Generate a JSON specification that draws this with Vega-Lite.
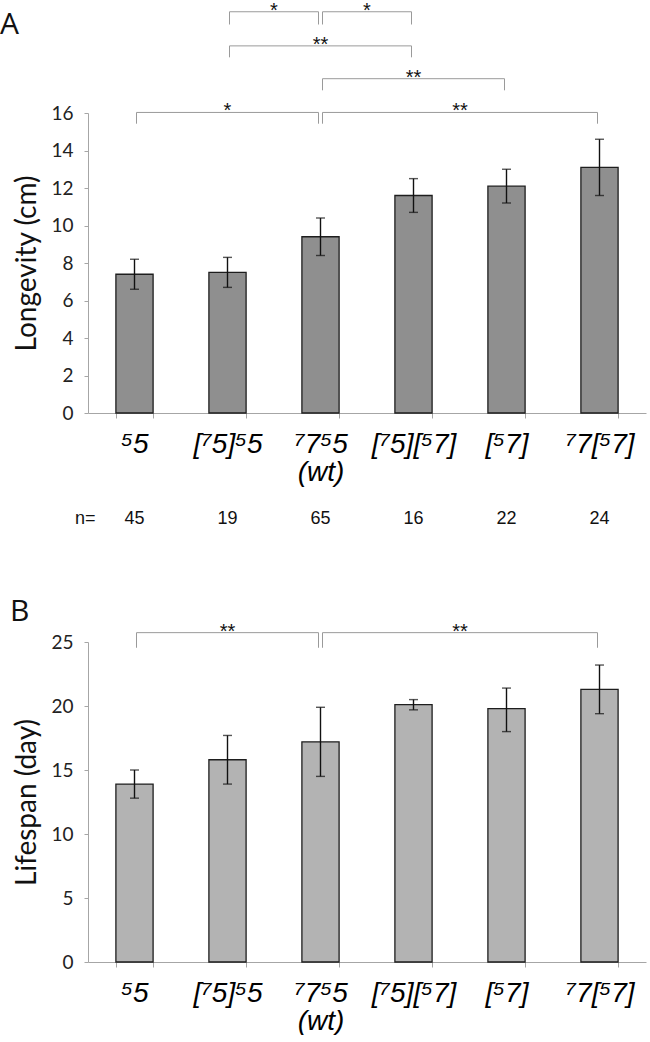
{
  "$schema": "https://vega.github.io/schema/vega-lite/v6.json",
  "background": "white",
  "padding": {"left": 0, "top": 0, "right": 2, "bottom": 0},
  "spacing": 69,
  "datasets": {
    "longevity": [
      {"genotype": "⁵5", "mean": 7.4, "lo": 6.6, "hi": 8.2, "n": 45},
      {"genotype": "[⁷5]⁵5", "mean": 7.5, "lo": 6.7, "hi": 8.3, "n": 19},
      {"genotype": "⁷7⁵5\n(wt)", "mean": 9.4, "lo": 8.4, "hi": 10.4, "n": 65},
      {"genotype": "[⁷5][⁵7]", "mean": 11.6, "lo": 10.7, "hi": 12.5, "n": 16},
      {"genotype": "[⁵7]", "mean": 12.1, "lo": 11.2, "hi": 13.0, "n": 22},
      {"genotype": "⁷7[⁵7]", "mean": 13.1, "lo": 11.6, "hi": 14.6, "n": 24}
    ],
    "lifespan": [
      {"genotype": "⁵5", "mean": 13.9, "lo": 12.8, "hi": 15.0},
      {"genotype": "[⁷5]⁵5", "mean": 15.8, "lo": 13.9, "hi": 17.7},
      {"genotype": "⁷7⁵5\n(wt)", "mean": 17.2, "lo": 14.5, "hi": 19.9},
      {"genotype": "[⁷5][⁵7]", "mean": 20.1, "lo": 19.7, "hi": 20.5},
      {"genotype": "[⁵7]", "mean": 19.8, "lo": 18.0, "hi": 21.4},
      {"genotype": "⁷7[⁵7]", "mean": 21.3, "lo": 19.4, "hi": 23.2}
    ],
    "bracketsA": [
      {"from": 1.5, "to": 2.5, "mid": 2.0, "top": 21.4, "bot": 20.72, "sig": "*"},
      {"from": 2.5, "to": 3.5, "mid": 3.0, "top": 21.4, "bot": 20.72, "sig": "*"},
      {"from": 1.5, "to": 3.5, "mid": 2.5, "top": 19.58, "bot": 18.97, "sig": "**"},
      {"from": 2.5, "to": 4.5, "mid": 3.5, "top": 17.83, "bot": 17.21, "sig": "**"},
      {"from": 0.5, "to": 2.5, "mid": 1.5, "top": 16.03, "bot": 15.43, "sig": "*"},
      {"from": 2.5, "to": 5.5, "mid": 4.0, "top": 16.03, "bot": 15.43, "sig": "**"}
    ],
    "bracketsB": [
      {"from": 0.5, "to": 2.5, "mid": 1.5, "top": 25.73, "bot": 24.55, "sig": "**"},
      {"from": 2.5, "to": 5.5, "mid": 4.0, "top": 25.73, "bot": 24.55, "sig": "**"}
    ]
  },
  "vconcat": [
    {
      "width": 558,
      "height": 300,
      "resolve": {"scale": {"x": "independent"}},
      "layer": [
        {
          "data": {"name": "longevity"},
          "encoding": {
            "x": {
              "field": "genotype", "type": "nominal", "sort": null,
              "scale": {"paddingInner": 0.6, "paddingOuter": 0.3},
              "axis": {"title": null}
            }
          },
          "layer": [
            {
              "mark": {"type": "bar", "fill": "#8f8f8f", "stroke": "#1e1e1e", "strokeWidth": 1.3},
              "encoding": {
                "y": {
                  "field": "mean", "type": "quantitative",
                  "scale": {"domain": [0, 16], "nice": false},
                  "axis": {"values": [0, 2, 4, 6, 8, 10, 12, 14, 16], "title": "Longevity (cm)"}
                }
              }
            },
            {
              "mark": {"type": "rule", "color": "#111", "strokeWidth": 1.4},
              "encoding": {
                "y": {"field": "lo", "type": "quantitative", "scale": {"domain": [0, 16], "nice": false}, "axis": {"values": [0, 2, 4, 6, 8, 10, 12, 14, 16], "title": "Longevity (cm)"}},
                "y2": {"field": "hi"}
              }
            },
            {
              "mark": {"type": "tick", "color": "#111", "thickness": 1.4, "size": 9},
              "encoding": {
                "y": {"field": "lo", "type": "quantitative", "scale": {"domain": [0, 16], "nice": false}, "axis": {"values": [0, 2, 4, 6, 8, 10, 12, 14, 16], "title": "Longevity (cm)"}}
              }
            },
            {
              "mark": {"type": "tick", "color": "#111", "thickness": 1.4, "size": 9},
              "encoding": {
                "y": {"field": "hi", "type": "quantitative", "scale": {"domain": [0, 16], "nice": false}, "axis": {"values": [0, 2, 4, 6, 8, 10, 12, 14, 16], "title": "Longevity (cm)"}}
              }
            },
            {
              "mark": {"type": "text", "font": "Liberation Sans", "fontSize": 18, "baseline": "middle", "color": "#111"},
              "encoding": {
                "y": {"datum": -5.64, "type": "quantitative", "scale": {"domain": [0, 16], "nice": false}, "axis": {"values": [0, 2, 4, 6, 8, 10, 12, 14, 16], "title": "Longevity (cm)"}},
                "text": {"field": "n"}
              }
            }
          ]
        },
        {
          "data": {"name": "bracketsA"},
          "layer": [
            {
              "mark": {"type": "rule", "color": "#9a9a9a", "strokeWidth": 1, "xOffset": 2, "x2Offset": -2},
              "encoding": {
                "x": {"field": "from", "type": "quantitative", "scale": {"domain": [0, 6]}, "axis": null},
                "x2": {"field": "to"},
                "y": {"field": "top", "type": "quantitative", "scale": {"domain": [0, 16], "nice": false}, "axis": {"values": [0, 2, 4, 6, 8, 10, 12, 14, 16], "title": "Longevity (cm)"}}
              }
            },
            {
              "mark": {"type": "rule", "color": "#9a9a9a", "strokeWidth": 1, "xOffset": 2},
              "encoding": {
                "x": {"field": "from", "type": "quantitative", "scale": {"domain": [0, 6]}, "axis": null},
                "y": {"field": "bot", "type": "quantitative", "scale": {"domain": [0, 16], "nice": false}, "axis": {"values": [0, 2, 4, 6, 8, 10, 12, 14, 16], "title": "Longevity (cm)"}},
                "y2": {"field": "top"}
              }
            },
            {
              "mark": {"type": "rule", "color": "#9a9a9a", "strokeWidth": 1, "xOffset": -2},
              "encoding": {
                "x": {"field": "to", "type": "quantitative", "scale": {"domain": [0, 6]}, "axis": null},
                "y": {"field": "bot", "type": "quantitative", "scale": {"domain": [0, 16], "nice": false}, "axis": {"values": [0, 2, 4, 6, 8, 10, 12, 14, 16], "title": "Longevity (cm)"}},
                "y2": {"field": "top"}
              }
            },
            {
              "mark": {"type": "text", "font": "Liberation Sans", "fontSize": 20, "baseline": "alphabetic", "dy": 5, "color": "#111"},
              "encoding": {
                "x": {"field": "mid", "type": "quantitative", "scale": {"domain": [0, 6]}, "axis": null},
                "y": {"field": "top", "type": "quantitative", "scale": {"domain": [0, 16], "nice": false}, "axis": {"values": [0, 2, 4, 6, 8, 10, 12, 14, 16], "title": "Longevity (cm)"}},
                "text": {"field": "sig"}
              }
            }
          ]
        },
        {
          "data": {"values": [{"label": "n="}]},
          "mark": {"type": "text", "font": "Liberation Sans", "fontSize": 18, "baseline": "middle", "color": "#111"},
          "encoding": {
            "x": {"datum": -0.03, "type": "quantitative", "scale": {"domain": [0, 6]}, "axis": null},
            "y": {"datum": -5.64, "type": "quantitative", "scale": {"domain": [0, 16], "nice": false}, "axis": {"values": [0, 2, 4, 6, 8, 10, 12, 14, 16], "title": "Longevity (cm)"}},
            "text": {"field": "label"}
          }
        },
        {
          "data": {"values": [{"panel": "A"}]},
          "mark": {"type": "text", "font": "Open Sans", "fontSize": 30, "align": "left", "baseline": "alphabetic", "color": "#111"},
          "encoding": {
            "x": {"datum": -0.946, "type": "quantitative", "scale": {"domain": [0, 6]}, "axis": null},
            "y": {"datum": 20.19, "type": "quantitative", "scale": {"domain": [0, 16], "nice": false}, "axis": {"values": [0, 2, 4, 6, 8, 10, 12, 14, 16], "title": "Longevity (cm)"}},
            "text": {"field": "panel"}
          }
        }
      ]
    },
    {
      "width": 558,
      "height": 320,
      "resolve": {"scale": {"x": "independent"}},
      "layer": [
        {
          "data": {"name": "lifespan"},
          "encoding": {
            "x": {
              "field": "genotype", "type": "nominal", "sort": null,
              "scale": {"paddingInner": 0.6, "paddingOuter": 0.3},
              "axis": {"title": null}
            }
          },
          "layer": [
            {
              "mark": {"type": "bar", "fill": "#b3b3b3", "stroke": "#1e1e1e", "strokeWidth": 1.3},
              "encoding": {
                "y": {
                  "field": "mean", "type": "quantitative",
                  "scale": {"domain": [0, 25], "nice": false},
                  "axis": {"values": [0, 5, 10, 15, 20, 25], "title": "Lifespan (day)"}
                }
              }
            },
            {
              "mark": {"type": "rule", "color": "#111", "strokeWidth": 1.4},
              "encoding": {
                "y": {"field": "lo", "type": "quantitative", "scale": {"domain": [0, 25], "nice": false}, "axis": {"values": [0, 5, 10, 15, 20, 25], "title": "Lifespan (day)"}},
                "y2": {"field": "hi"}
              }
            },
            {
              "mark": {"type": "tick", "color": "#111", "thickness": 1.4, "size": 9},
              "encoding": {
                "y": {"field": "lo", "type": "quantitative", "scale": {"domain": [0, 25], "nice": false}, "axis": {"values": [0, 5, 10, 15, 20, 25], "title": "Lifespan (day)"}}
              }
            },
            {
              "mark": {"type": "tick", "color": "#111", "thickness": 1.4, "size": 9},
              "encoding": {
                "y": {"field": "hi", "type": "quantitative", "scale": {"domain": [0, 25], "nice": false}, "axis": {"values": [0, 5, 10, 15, 20, 25], "title": "Lifespan (day)"}}
              }
            }
          ]
        },
        {
          "data": {"name": "bracketsB"},
          "layer": [
            {
              "mark": {"type": "rule", "color": "#9a9a9a", "strokeWidth": 1, "xOffset": 2, "x2Offset": -2},
              "encoding": {
                "x": {"field": "from", "type": "quantitative", "scale": {"domain": [0, 6]}, "axis": null},
                "x2": {"field": "to"},
                "y": {"field": "top", "type": "quantitative", "scale": {"domain": [0, 25], "nice": false}, "axis": {"values": [0, 5, 10, 15, 20, 25], "title": "Lifespan (day)"}}
              }
            },
            {
              "mark": {"type": "rule", "color": "#9a9a9a", "strokeWidth": 1, "xOffset": 2},
              "encoding": {
                "x": {"field": "from", "type": "quantitative", "scale": {"domain": [0, 6]}, "axis": null},
                "y": {"field": "bot", "type": "quantitative", "scale": {"domain": [0, 25], "nice": false}, "axis": {"values": [0, 5, 10, 15, 20, 25], "title": "Lifespan (day)"}},
                "y2": {"field": "top"}
              }
            },
            {
              "mark": {"type": "rule", "color": "#9a9a9a", "strokeWidth": 1, "xOffset": -2},
              "encoding": {
                "x": {"field": "to", "type": "quantitative", "scale": {"domain": [0, 6]}, "axis": null},
                "y": {"field": "bot", "type": "quantitative", "scale": {"domain": [0, 25], "nice": false}, "axis": {"values": [0, 5, 10, 15, 20, 25], "title": "Lifespan (day)"}},
                "y2": {"field": "top"}
              }
            },
            {
              "mark": {"type": "text", "font": "Liberation Sans", "fontSize": 20, "baseline": "alphabetic", "dy": 5, "color": "#111"},
              "encoding": {
                "x": {"field": "mid", "type": "quantitative", "scale": {"domain": [0, 6]}, "axis": null},
                "y": {"field": "top", "type": "quantitative", "scale": {"domain": [0, 25], "nice": false}, "axis": {"values": [0, 5, 10, 15, 20, 25], "title": "Lifespan (day)"}},
                "text": {"field": "sig"}
              }
            }
          ]
        },
        {
          "data": {"values": [{"panel": "B"}]},
          "mark": {"type": "text", "font": "Open Sans", "fontSize": 30, "align": "left", "baseline": "alphabetic", "color": "#111"},
          "encoding": {
            "x": {"datum": -0.84, "type": "quantitative", "scale": {"domain": [0, 6]}, "axis": null},
            "y": {"datum": 26.64, "type": "quantitative", "scale": {"domain": [0, 25], "nice": false}, "axis": {"values": [0, 5, 10, 15, 20, 25], "title": "Lifespan (day)"}},
            "text": {"field": "panel"}
          }
        }
      ]
    }
  ],
  "config": {
    "view": {"stroke": null},
    "axisX": {
      "labelExpr": "split(datum.label, '\\n')",
      "labelFont": "Liberation Sans",
      "labelFontStyle": "italic",
      "labelFontSize": 28,
      "labelColor": "#000",
      "labelAngle": 0,
      "labelBaseline": "top",
      "labelLineHeight": 28,
      "labelPadding": 12,
      "labelOverlap": false,
      "tickBand": "extent",
      "tickSize": 5,
      "tickColor": "#a6a6a6",
      "domainColor": "#a6a6a6",
      "grid": false
    },
    "axisY": {
      "labelFont": "Lato",
      "labelFontSize": 19,
      "labelColor": "#222",
      "labelPadding": 11,
      "tickSize": 4,
      "tickColor": "#a6a6a6",
      "domainColor": "#a6a6a6",
      "titleFont": "Lato",
      "titleFontSize": 28,
      "titleFontWeight": "normal",
      "titleColor": "#111",
      "titlePadding": 9,
      "grid": false
    }
  }
}
